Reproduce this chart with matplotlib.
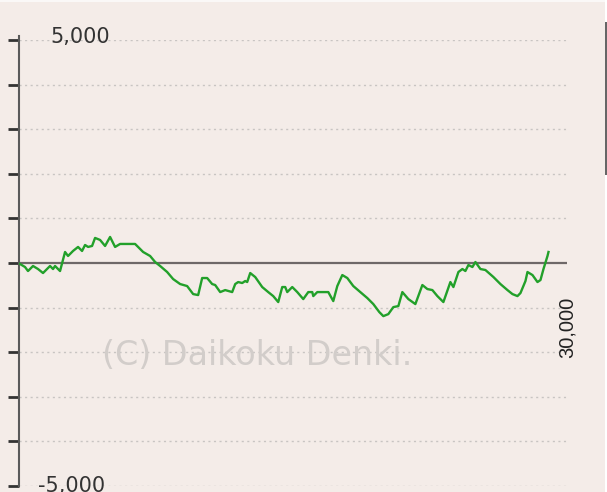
import matplotlib
matplotlib.use("Agg")
import matplotlib.pyplot as plt
from matplotlib.patches import Rectangle

# Data: games (x) vs. coin difference (y)
games = [55, 329, 493, 767, 1041, 1315, 1699, 1863, 1973, 2247, 2521, 2685, 2959, 3233,
         3452, 3616, 3781, 4000, 4164, 4438, 4712, 4986, 5260, 5534, 6356, 6795, 7178,
         7452, 7726, 8110, 8438, 8822, 9205, 9534, 9808, 10027, 10301, 10575, 10740,
         11014, 11288, 11671, 11836, 12000, 12219, 12384, 12493, 12658, 12932, 13315,
         13644, 13918, 14192, 14411, 14575, 14685, 14959, 15233, 15562, 15836, 16055,
         16110, 16329, 16767, 16932, 17205, 17425, 17699, 17973, 18301, 18685, 19068,
         19397, 19726, 19945, 20219, 20493, 20767, 20986, 21315, 21699, 22082, 22356,
         22630, 22904, 23233, 23616, 23781, 24055, 24274, 24438, 24603, 24822, 24986,
         25260, 25534, 25973, 26356, 26740, 27014, 27288, 27452, 27726, 27836, 28110,
         28384, 28548, 28712, 28932, 28986]
diff = [-22, -90, -180, -67, -135, -225, -67, -135, -67, -180, 247, 157, 270, 360,
        270, 404, 360, 382, 562, 517, 382, 584, 360, 427, 427, 247, 157,
        22, -67, -202, -360, -472, -517, -697, -719, -337, -337, -472, -494,
        -652, -607, -652, -472, -427, -449, -404, -427, -225, -315, -539,
        -652, -742, -876, -539, -539, -652, -539, -652, -809, -652, -652,
        -742, -652, -652, -652, -854, -517, -270, -337, -517, -652, -786,
        -921, -1101, -1191, -1146, -989, -966, -652, -809, -921, -494, -584,
        -607, -742, -876, -427, -539, -202, -135, -180, -45, -90, 22,
        -135, -157, -315, -472, -607, -697, -742, -674, -404, -202, -270,
        -427, -382, -135, 157, 247]

y_ticks = list(range(-5000, 5001, 1000))
y_labels = {5000: "5,000", -5000: "-5,000"}
x_label_value = 30000
x_label_text = "30,000"
watermark = "(C) Daikoku Denki."

bg = "#F4ECE8"
W, H = 607, 492
fig = plt.figure(figsize=(W / 100, H / 100), dpi=100, facecolor=bg)

# decorative edges
fig.patches.append(Rectangle((0, (H - 2) / H), 1, 2 / H, transform=fig.transFigure,
                             facecolor="#FAF8F7", edgecolor="none", zorder=0))
fig.patches.append(Rectangle((605 / W, 0), 2 / W, 1, transform=fig.transFigure,
                             facecolor="#FFFFFF", edgecolor="none", zorder=0))
fig.patches.append(Rectangle((605 / W, (H - 175) / H), 2 / W, (175 - 22) / H,
                             transform=fig.transFigure, facecolor="#666666",
                             edgecolor="none", zorder=1))

left, right = 19 / W, 567 / W
top, bottom = (H - 40) / H, (H - 486) / H
ax = fig.add_axes([left, bottom, right - left, top - bottom])
ax.set_facecolor(bg)
ax.set_xlim(0, 30000)
ax.set_ylim(-5000, 5000)

for s in ["top", "right", "bottom"]:
    ax.spines[s].set_visible(False)
ax.spines["left"].set_color("#5a5a5a")
ax.spines["left"].set_linewidth(1.5)
ax.spines["left"].set_bounds(-5000, 5100)

ax.set_xticks([])
ax.set_yticks(y_ticks)
ax.set_yticklabels([])
ax.tick_params(axis="y", length=8, width=2, color="#333333", direction="out")

for v in y_ticks:
    if v != 0:
        ax.axhline(v, color="#c8c4c2", lw=1.0, ls=(0, (1.5, 2.5)), zorder=1)
ax.axhline(0, color="#6e6868", lw=1.6, zorder=2)

ax.plot(games, diff, color="#22A02A", lw=1.7, zorder=4)

# watermark
ax.text(13030, -2290, watermark, fontsize=24, family="DejaVu Sans",
        color="#D2CDCA", ha="center", va="baseline", zorder=3, clip_on=False)

ax.text(1700, 4930, y_labels[5000], fontsize=15, family="DejaVu Sans",
        color="#333333", ha="left", va="baseline", clip_on=False, zorder=5)
ax.text(1040, -5134, y_labels[-5000], fontsize=15, family="DejaVu Sans",
        color="#333333", ha="left", va="baseline", clip_on=False, zorder=5)

ax.text(x_label_value, -760, x_label_text, rotation=90, fontsize=14.5,
        family="Liberation Sans", color="#222222",
        ha="center", va="top", clip_on=False, zorder=5)

fig.savefig("out.png", dpi=100, facecolor=bg)
